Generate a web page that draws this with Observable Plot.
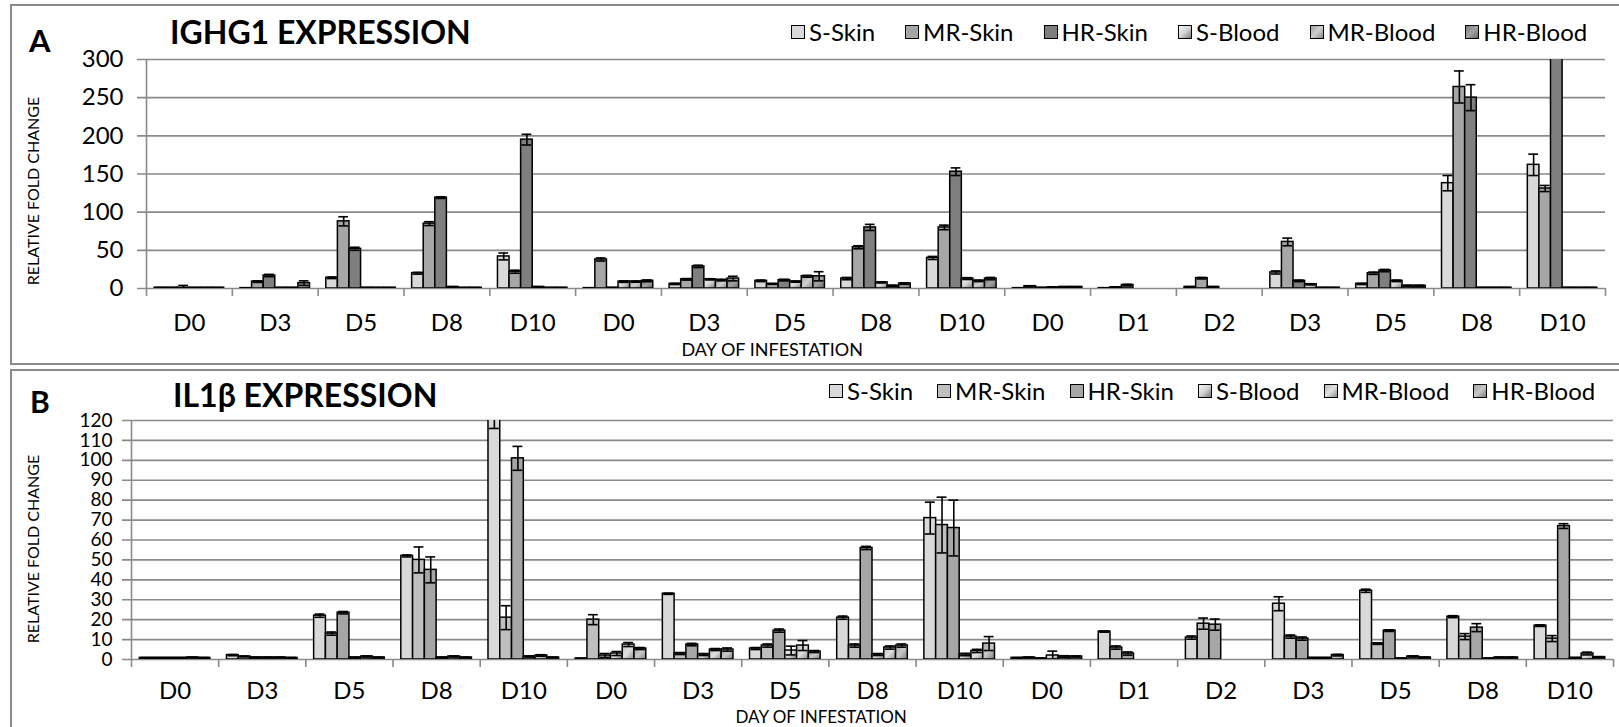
<!DOCTYPE html>
<html>
<head>
<meta charset="utf-8">
<script src="https://cdn.jsdelivr.net/npm/d3@7"></script>
<script src="https://cdn.jsdelivr.net/npm/@observablehq/plot@0.6"></script>
<style>
  html, body { margin: 0; padding: 0; background: #fff; }
  #root { position: relative; width: 1619px; height: 727px; overflow: hidden; font-family: Lato, sans-serif; color: #000; }
  .box { position: absolute; left: 10px; width: 1700px; border: 2px solid #8a8a8a; box-sizing: border-box; }
  .t { position: absolute; line-height: 1; white-space: nowrap; }
  .plot-holder { position: absolute; left: 0; }
  .legend { position: absolute; display: flex; align-items: center; font-size: 24px; line-height: 1; white-space: nowrap; height: 24px; }
  .leg { display: flex; align-items: center; }
  .sw { width: 12px; height: 12px; border: 1.5px solid #000; margin-right: 4px; box-sizing: content-box; }
  .ylab { position: absolute; font-size: 16px; line-height: 1; white-space: nowrap; transform-origin: center; }
</style>
</head>
<body>
<div id="root"></div>
<script>
// ---------------- DATA ----------------
const groupLabels = ["D0","D3","D5","D8","D10","D0","D3","D5","D8","D10","D0","D1","D2","D3","D5","D8","D10"];
const seriesNames = ["S-Skin","MR-Skin","HR-Skin","S-Blood","MR-Blood","HR-Blood"];

// Panel A: IGHG1
const yTicksA = [0, 50, 100, 150, 200, 250, 300];
const ighg1_S_Skin   = [1, 0.5, 14, 20, 42, 0.5, 6, 10, 13, 40, 0.5, 0.5, 2, 21, 6, 138, 162];
const ighg1_MR_Skin  = [1, 9, 88, 85, 22, 38, 12, 6, 54, 80, 3, 1.5, 13.5, 61, 20, 264, 131];
const ighg1_HR_Skin  = [1, 17, 52, 119, 195, 1, 29, 11, 80, 153, 1, 4.5, 2, 10, 23.5, 250, 330];
const ighg1_S_Blood  = [1, 1, 1, 2, 2, 9, 12, 9, 8, 13, 1.5, null, null, 5.5, 10, 1, 1];
const ighg1_MR_Blood = [1, 1, 1, 1, 1, 9, 11, 16, 3.5, 10, 2, null, null, 1, 3.5, 1, 1];
const ighg1_HR_Blood = [1, 7, 1, 1, 1, 10, 13, 16, 6.5, 13, 2, null, null, 1, 3.5, 1, 1];
const ighg1_S_Skin_err   = [0.3, 0.3, 1, 1.2, 4.5, 0.2, 0.8, 1, 1.5, 2, 0.2, 0.2, 0.5, 2, 0.8, 10, 14];
const ighg1_MR_Skin_err  = [0.3, 1, 6, 2.5, 2, 2, 1, 0.5, 2, 3, 0.6, 0.4, 1, 5, 1.5, 21, 4];
const ighg1_HR_Skin_err  = [3, 1.5, 2, 1, 7, 0.2, 1.5, 1, 4, 5, 0.3, 1, 0.5, 1, 1.5, 17, 0];
const ighg1_S_Blood_err  = [0.2, 0.2, 0.3, 0.4, 0.4, 1, 0.8, 0.8, 0.8, 1.2, 0.3, null, null, 0.8, 1, 0.3, 0.3];
const ighg1_MR_Blood_err = [0.2, 0.2, 0.2, 0.2, 0.2, 0.8, 1, 1.2, 0.8, 1, 0.4, null, null, 0.3, 0.8, 0.3, 0.3];
const ighg1_HR_Blood_err = [0.2, 3, 0.2, 0.2, 0.2, 1.2, 3, 6, 1, 1.5, 0.4, null, null, 0.3, 0.8, 0.3, 0.3];

// Panel B: IL1beta
const yTicksB = [0, 10, 20, 30, 40, 50, 60, 70, 80, 90, 100, 110, 120];
const il1b_S_Skin   = [0.8, 2.2, 22, 52, 124, 0.5, 33, 5.5, 21, 71, 0.8, 14, 11, 28, 34.5, 21.5, 17];
const il1b_MR_Skin  = [0.8, 1.5, 13, 50, 21, 20, 3, 7, 7, 67.5, 1, 6, 18, 11.5, 8, 11.5, 10.5];
const il1b_HR_Skin  = [0.8, 1, 23.5, 45, 101, 2, 7.5, 14.5, 56, 66, 0.5, 3, 17.5, 10.5, 14.5, 16, 67];
const il1b_S_Blood  = [0.8, 1, 1, 1, 1.5, 3, 2.5, 4.5, 2.5, 2.5, 2, null, null, 0.8, 0.5, 0.5, 0.8];
const il1b_MR_Blood = [1, 1, 1.5, 1.5, 2, 7.5, 5, 7, 6, 4.3, 1.5, null, null, 0.8, 1.5, 1, 3];
const il1b_HR_Blood = [0.8, 0.8, 1, 1, 1, 5.5, 5, 4, 7, 8, 1.5, null, null, 2.2, 1, 1, 1.2];
const il1b_S_Skin_err   = [0.2, 0.3, 0.8, 0.5, 8, 0.1, 0.3, 0.5, 0.8, 8, 0.2, 0.3, 0.8, 3.5, 0.8, 0.5, 0.4];
const il1b_MR_Skin_err  = [0.2, 0.2, 0.8, 6.5, 6, 2.5, 0.5, 0.8, 0.8, 14, 0.2, 0.8, 2.8, 0.8, 0.4, 1.5, 1.5];
const il1b_HR_Skin_err  = [0.2, 0.2, 0.6, 6.5, 6, 1, 0.6, 0.8, 0.8, 14, 0.2, 0.8, 2.8, 0.8, 0.4, 2, 1.2];
const il1b_S_Blood_err  = [0.2, 0.2, 0.2, 0.2, 0.3, 1, 0.5, 2.2, 0.5, 0.6, 2.2, null, null, 0.2, 0.2, 0.2, 0.2];
const il1b_MR_Blood_err = [0.2, 0.2, 0.3, 0.3, 0.4, 1, 0.5, 2.5, 0.8, 0.8, 0.4, null, null, 0.2, 0.3, 0.2, 0.7];
const il1b_HR_Blood_err = [0.2, 0.2, 0.2, 0.2, 0.2, 0.5, 0.8, 0.5, 0.8, 3.5, 0.3, null, null, 0.4, 0.2, 0.2, 0.2];

// ---------------- STYLE ----------------
const GRID = "#8a8a8a";
const PAD = 0.095;
const BW = (1 - 2 * PAD) / 6;
const CAP = BW * 0.42;

const panelStyles = {
  A: {
    solid: ["#d9d9d9", "#a6a6a6", "#7f7f7f"],
    grads: [
      ["#f4f4f4", "#d4d4d4", "#7a7a7a"],
      ["#a0a0a0", "#cfcfcf", "#8a8a8a"],
      ["#7a7a7a", "#a3a3a3", "#666666"]
    ]
  },
  B: {
    solid: ["#d9d9d9", "#bfbfbf", "#a6a6a6"],
    grads: [
      ["#f4f4f4", "#d4d4d4", "#7a7a7a"],
      ["#bdbdbd", "#e0e0e0", "#8e8e8e"],
      ["#a3a3a3", "#c8c8c8", "#7f7f7f"]
    ]
  }
};

function makeRows(values, errors) {
  const rows = [];
  values.forEach((arr, s) => arr.forEach((v, g) => {
    if (v != null) rows.push({ g, s, v, e: errors[s][g] || 0 });
  }));
  return rows;
}
const left = d => d.g + PAD + d.s * BW;
const mid = d => d.g + PAD + (d.s + 0.5) * BW;

function panel(cfg) {
  const st = panelStyles[cfg.key];
  const fills = [...st.solid, `url(#g${cfg.key}3)`, `url(#g${cfg.key}4)`, `url(#g${cfg.key}5)`];
  const rows = makeRows(cfg.values, cfg.errors);
  const rowsE = rows.filter(d => d.e > 0);
  const bounds = d3.range(groupLabels.length + 1);
  const ymax = cfg.yTicks[cfg.yTicks.length - 1];

  const svg = Plot.plot({
    width: 1619,
    height: cfg.height,
    marginLeft: cfg.ml, marginRight: cfg.mr, marginTop: cfg.mt, marginBottom: cfg.mb,
    style: { fontFamily: "Lato, sans-serif", fontSize: "24px", color: "#000", background: "transparent", overflow: "visible" },
    x: { type: "linear", domain: [0, groupLabels.length], axis: null },
    y: { domain: [0, ymax], axis: null },
    color: { type: "identity" },
    marks: [
      Plot.ruleY(cfg.yTicks, { y: d => d, x1: 0, x2: groupLabels.length, insetLeft: -9, stroke: GRID, strokeWidth: 1.6 }),
      Plot.ruleX([0], { x: d => d, stroke: GRID, strokeWidth: 1.6 }),
      Plot.ruleX(bounds, { x: d => d, y1: 0, y2: 0, insetBottom: -8, stroke: GRID, strokeWidth: 1.6 }),
      Plot.text(cfg.yTicks, { x: 0, y: d => d, text: d => String(d), textAnchor: "end", dx: cfg.ydx, fontSize: cfg.yfs, ariaLabel: "ytick-labels" }),
      Plot.text(groupLabels, { x: (d, i) => i + 0.5, y: 0, text: d => d, dy: cfg.xdy, fontSize: 24 }),
      Plot.rect(rows, { x1: left, x2: d => left(d) + BW, y1: 0, y2: "v", fill: d => fills[d.s], stroke: "#000", strokeWidth: 1.5, clip: true }),
      Plot.ruleX(rowsE, { x: mid, y1: d => Math.max(0, d.v - d.e), y2: d => d.v + d.e, stroke: "#000", strokeWidth: 1.6, clip: true }),
      Plot.ruleY(rowsE, { y: d => d.v + d.e, x1: d => mid(d) - CAP, x2: d => mid(d) + CAP, stroke: "#000", strokeWidth: 1.6, clip: true }),
      Plot.ruleY(rowsE, { y: d => Math.max(0, d.v - d.e), x1: d => mid(d) - CAP, x2: d => mid(d) + CAP, stroke: "#000", strokeWidth: 1.6, clip: true })
    ]
  });

  if (cfg.yStretch) {
    svg.querySelectorAll('g[aria-label="ytick-labels"] text').forEach(t => {
      const tr = t.getAttribute("transform") || "";
      t.setAttribute("transform", tr + ` scale(${cfg.yStretch},1)`);
    });
  }

  const ns = "http://www.w3.org/2000/svg";
  const defs = document.createElementNS(ns, "defs");
  st.grads.forEach((cols, k) => {
    const lg = document.createElementNS(ns, "linearGradient");
    lg.setAttribute("id", `g${cfg.key}${k + 3}`);
    lg.setAttribute("x1", "0"); lg.setAttribute("y1", "0");
    lg.setAttribute("x2", "1"); lg.setAttribute("y2", "1");
    cols.forEach((c, j) => {
      const stop = document.createElementNS(ns, "stop");
      stop.setAttribute("offset", String(j / (cols.length - 1)));
      stop.setAttribute("stop-color", c);
      lg.appendChild(stop);
    });
    defs.appendChild(lg);
  });
  svg.insertBefore(defs, svg.firstChild);
  return { svg, st };
}

const root = document.getElementById("root");
function addDiv(cls, css, html) {
  const d = document.createElement("div");
  d.className = cls;
  Object.assign(d.style, css);
  if (html != null) d.innerHTML = html;
  root.appendChild(d);
  return d;
}

addDiv("box", { top: "4px", height: "361px" });
addDiv("box", { top: "369px", height: "420px" });

function legend(st, x0, yc, gap) {
  const bg = [
    st.solid[0], st.solid[1], st.solid[2],
    `linear-gradient(135deg, ${st.grads[0].join(",")})`,
    `linear-gradient(135deg, ${st.grads[1].join(",")})`,
    `linear-gradient(135deg, ${st.grads[2].join(",")})`
  ];
  const box = addDiv("legend", { left: x0 + "px", top: (yc - 12) + "px", gap: gap + "px" });
  seriesNames.forEach((name, i) => {
    const item = document.createElement("div");
    item.className = "leg";
    const sw = document.createElement("div");
    sw.className = "sw";
    sw.style.background = bg[i];
    item.appendChild(sw);
    const tx = document.createElement("span");
    tx.textContent = name;
    item.appendChild(tx);
    box.appendChild(item);
  });
}

// Panel A
const A = panel({
  key: "A", height: 364, ml: 146, mr: 14, mt: 59, mb: 76,
  yTicks: yTicksA, ydx: -23, yfs: 24, xdy: 35,
  values: [ighg1_S_Skin, ighg1_MR_Skin, ighg1_HR_Skin, ighg1_S_Blood, ighg1_MR_Blood, ighg1_HR_Blood],
  errors: [ighg1_S_Skin_err, ighg1_MR_Skin_err, ighg1_HR_Skin_err, ighg1_S_Blood_err, ighg1_MR_Blood_err, ighg1_HR_Blood_err]
});
addDiv("plot-holder", { top: "0px" }).appendChild(A.svg);

// Panel B
const B = panel({
  key: "B", height: 357, ml: 131, mr: 6, mt: 50, mb: 68,
  yTicks: yTicksB, ydx: -19, yfs: 19, yStretch: 1.25, xdy: 32,
  values: [il1b_S_Skin, il1b_MR_Skin, il1b_HR_Skin, il1b_S_Blood, il1b_MR_Blood, il1b_HR_Blood],
  errors: [il1b_S_Skin_err, il1b_MR_Skin_err, il1b_HR_Skin_err, il1b_S_Blood_err, il1b_MR_Blood_err, il1b_HR_Blood_err]
});
addDiv("plot-holder", { top: "370px" }).appendChild(B.svg);

// Texts
addDiv("t", { left: "29px", top: "25px", fontSize: "31px", fontWeight: "bold" }, "A");
addDiv("t", { left: "170px", top: "16px", fontSize: "32px", fontWeight: "bold" }, "IGHG1 EXPRESSION");
addDiv("t", { left: "30px", top: "386px", fontSize: "30px", fontWeight: "bold" }, "B");
addDiv("t", { left: "173px", top: "379px", fontSize: "32px", fontWeight: "bold" }, "IL1β EXPRESSION");

const dA = addDiv("t", { fontSize: "18px" }, "DAY OF INFESTATION");
dA.style.left = (772 - dA.offsetWidth / 2) + "px"; dA.style.top = (349 - 9.5) + "px";
const dB = addDiv("t", { fontSize: "17px" }, "DAY OF INFESTATION");
dB.style.left = (821 - dB.offsetWidth / 2) + "px"; dB.style.top = "708px";

function ylab(cx, cy) {
  const d = addDiv("ylab", {}, "RELATIVE FOLD CHANGE");
  const w = d.offsetWidth, h = d.offsetHeight;
  d.style.left = (cx - w / 2) + "px";
  d.style.top = (cy - h / 2) + "px";
  d.style.transform = "rotate(-90deg)";
}
ylab(33, 191);
ylab(33, 549);

legend(A.st, 791, 32, 30);
legend(B.st, 829, 391, 24);
</script>
</body>
</html>
